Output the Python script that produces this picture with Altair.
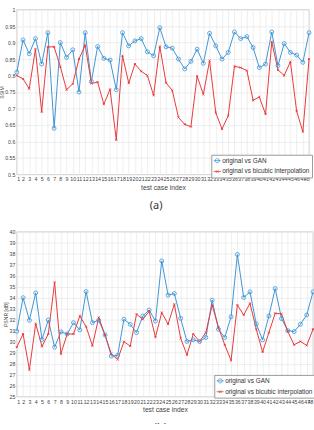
import altair as alt
import pandas as pd

idx = list(range(1, 49))
series = ["original vs GAN", "original vs bicubic interpolation"]
colors = ["#3d94d6", "#e8383a"]

ssim_gan = [0.81, 0.908, 0.866, 0.912, 0.835, 0.93, 0.64, 0.9, 0.855, 0.878,
            0.75, 0.93, 0.782, 0.888, 0.852, 0.847, 0.757, 0.93, 0.89, 0.905,
            0.912, 0.872, 0.86, 0.945, 0.887, 0.883, 0.85, 0.82, 0.843, 0.88,
            0.837, 0.928, 0.89, 0.85, 0.87, 0.932, 0.912, 0.918, 0.885, 0.824,
            0.835, 0.932, 0.83, 0.897, 0.87, 0.862, 0.84, 0.93]
ssim_bic = [0.8, 0.79, 0.76, 0.88, 0.69, 0.887, 0.887, 0.827, 0.757, 0.775,
            0.85, 0.892, 0.776, 0.78, 0.713, 0.758, 0.605, 0.86, 0.777, 0.835,
            0.813, 0.8, 0.74, 0.888, 0.778, 0.755, 0.673, 0.652, 0.645, 0.798,
            0.743, 0.845, 0.687, 0.638, 0.678, 0.828, 0.824, 0.815, 0.725, 0.735,
            0.683, 0.902, 0.817, 0.8, 0.842, 0.692, 0.63, 0.85]
psnr_gan = [30.95, 34.0, 31.95, 34.44, 30.2, 31.97, 29.5, 30.9, 30.7, 31.73,
            31.07, 34.56, 31.73, 31.95, 30.62, 28.7, 28.75, 32.04, 31.58, 30.83,
            32.34, 32.88, 31.88, 37.35, 34.23, 34.38, 32.12, 30.02, 30.17, 30.02,
            30.38, 33.78, 31.13, 30.38, 32.27, 37.93, 34.02, 34.53, 31.61, 30.17,
            32.34, 34.83, 32.1, 31.01, 30.92, 31.58, 32.43, 34.53]
psnr_bic = [29.5, 30.7, 27.44, 31.64, 29.57, 30.7, 35.4, 28.9, 30.7, 30.7,
            32.34, 31.37, 29.62, 32.2, 30.6, 28.9, 28.37, 30.0, 29.6, 32.5,
            32.03, 32.76, 30.41, 32.65, 31.6, 33.4, 30.3, 28.8, 30.7, 30.02,
            30.83, 33.33, 31.3, 29.7, 28.3, 33.33, 32.43, 33.48, 31.13, 29.06,
            30.83, 32.58, 32.52, 30.92, 29.72, 30.02, 29.66, 31.13]

ssim_ticks = [0.5, 0.55, 0.6, 0.65, 0.7, 0.75, 0.8, 0.85, 0.9, 0.95, 1.0]
psnr_ticks = list(range(25, 41))

LEG_GAN = "M-1,0L1,0M0.6,0A0.6,0.6 0 1 1 -0.6,0A0.6,0.6 0 1 1 0.6,0"
LEG_BIC = "M-1,0L1,0M-0.35,-0.35L0.35,0.35M-0.35,0.35L0.35,-0.35"
XMARK = "M-1,-1L1,1M-1,1L1,-1"
FONT = "Liberation Sans"


def panel(gan, bic, ytitle, ydomain, yticks, yfmt, label, width, height, legx, legy):
    df = pd.DataFrame({
        "idx": idx + idx,
        "val": gan + bic,
        "series": [series[0]] * len(gan) + [series[1]] * len(bic),
    })
    base = alt.Chart(df)
    x = alt.X("idx:Q", scale=alt.Scale(domain=[1, 48], nice=False, zero=False),
              axis=alt.Axis(values=idx, title="test case index", labelAngle=0,
                            labelOverlap=False, labelPadding=2.5, titlePadding=2,
                            titleFontSize=6.8, format="d"))
    y = alt.Y("val:Q", scale=alt.Scale(domain=ydomain, nice=False, zero=False),
              axis=alt.Axis(values=yticks, format=yfmt, title=ytitle,
                            labelPadding=2, titlePadding=0, titleFontSize=5.2))
    cscale = alt.Scale(domain=series, range=colors)
    leg = dict(title=None, orient="none", legendX=legx, legendY=legy,
               direction="vertical", fillColor="white", strokeColor="#9a9a9a",
               padding=2, labelFontSize=6.5, labelFont=FONT, labelColor="#333333",
               symbolSize=49, symbolStrokeWidth=0.8, rowPadding=3, labelOffset=1,
               labelLimit=0, cornerRadius=0)
    legend_layer = base.transform_filter("false").mark_point(
        filled=False, strokeWidth=0.8, opacity=1).encode(
        x=x, y=y,
        color=alt.Color("series:N", scale=cscale, legend=alt.Legend(**leg)),
        shape=alt.Shape("series:N", scale=alt.Scale(domain=series, range=[LEG_GAN, LEG_BIC]),
                        legend=alt.Legend(**leg)))
    line = base.mark_line(strokeWidth=1).encode(
        x=x, y=y, color=alt.Color("series:N", scale=cscale, legend=None))
    gan_pts = base.transform_filter(alt.datum.series == series[0]).mark_point(
        shape="circle", filled=False, size=16, strokeWidth=0.8, opacity=1).encode(
        x=x, y=y, color=alt.Color("series:N", scale=cscale, legend=None))
    bic_pts = base.transform_filter(alt.datum.series == series[1]).mark_point(
        shape=XMARK, filled=False, size=4, strokeWidth=0.9, opacity=1).encode(
        x=x, y=y, color=alt.Color("series:N", scale=cscale, legend=None))
    return alt.layer(legend_layer, line, gan_pts, bic_pts).properties(
        width=width, height=height,
        title=alt.TitleParams(label, orient="bottom", fontSize=11, font="Noto Sans",
                              fontWeight="normal", color="#333333", offset=9,
                              frame="bounds", anchor="middle"))


top = panel(ssim_gan, ssim_bic, "SSIM", [0.5, 1.0], ssim_ticks, "~g", "(a)",
            296, 167, 197, 147)
bottom = panel(psnr_gan, psnr_bic, "PSNR [dB]", [25, 40], psnr_ticks, "d", "(b)",
               300, 167, 200, 145)

chart = alt.concat(top, bottom, columns=1, spacing=18, align="none").resolve_scale(
    color="independent", shape="independent"
).resolve_legend(
    color="independent", shape="independent"
).properties(
    padding={"left": -1, "top": 4, "right": -3, "bottom": -12},
    background="white",
).configure_axis(
    labelFont=FONT, labelFontSize=5.3, labelColor="#444444",
    titleFont=FONT, titleColor="#444444", titleFontWeight="normal",
    gridColor="#e4e4e4", gridWidth=0.6, domain=False, ticks=False,
).configure_view(stroke="#b0b0b0", strokeWidth=0.6)

chart.save("out.html", embed_options={"renderer": "svg", "actions": False})
